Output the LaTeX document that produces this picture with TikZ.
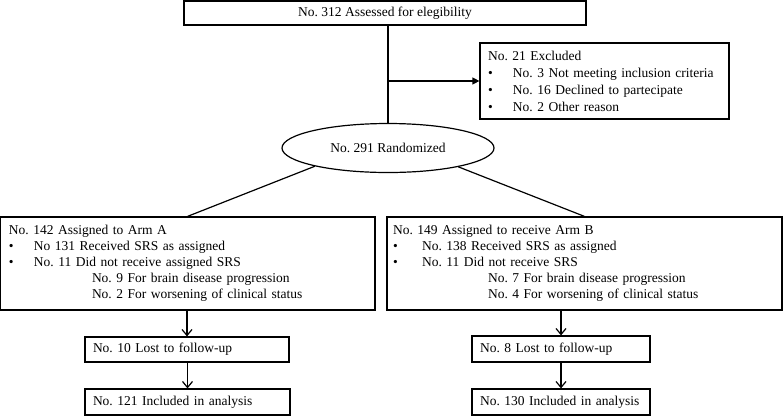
\documentclass[tikz,border=0pt]{standalone}
\usepackage{fontspec}
\setmainfont{Liberation Serif}
\frenchspacing
\usetikzlibrary{positioning}
\usetikzlibrary{arrows.meta,shapes.geometric}
\tikzstyle{box}=[rectangle,draw,line width=1.2pt,inner sep=0pt,font=\fontsize{13.5}{16}\selectfont]
\tikzstyle{textbox}=[box,align=left,inner xsep=8pt]
\tikzstyle{oval}=[ellipse,draw,line width=1.2pt,inner sep=0pt,font=\fontsize{13.5}{16}\selectfont]
\tikzstyle{link}=[draw,line width=1.2pt]
\tikzstyle{flow}=[draw,line width=1.2pt,-{Straight Barb[length=6pt,width=10pt]}]
\tikzstyle{side}=[draw,line width=1.2pt,-{Triangle[length=7pt,width=7pt]}]
\newcommand{\bul}[1]{\makebox[#1][l]{\textbullet}}

\begin{document}
\begin{tikzpicture}[x=1pt,y=-1pt]
    \useasboundingbox (0,0) rectangle (783,416);
    % boxes of the flow
    \node[box, minimum width=402, minimum height=24] (assess) at (385,13) {No. 312 Assessed for elegibility};
    \node[textbox, minimum width=249, minimum height=76, text width=233] (excl) at (604.5,81)
        {No. 21 Excluded\\[1pt]
         \bul{25pt}No. 3 Not meeting inclusion criteria\\[1pt]
         \bul{25pt}No. 16 Declined to partecipate\\[1pt]
         \bul{25pt}No. 2 Other reason};
    \node[oval, minimum width=212, minimum height=49] (rand) at (388,148) {No. 291 Randomized};
    \node[textbox, inner xsep=9pt, minimum width=375, minimum height=93, text width=357] (armA) at (187.5,263.5)
        {No. 142 Assigned to Arm A\\
         \bul{25pt}No 131 Received SRS as assigned\\
         \bul{25pt}No. 11 Did not receive assigned SRS\\
         \hspace*{83pt}No. 9 For brain disease progression\\
         \hspace*{83pt}No. 2 For worsening of clinical status};
    \node[textbox, inner xsep=6pt, minimum width=395, minimum height=93, text width=383] (armB) at (584.5,263.5)
        {No. 149 Assigned to receive Arm B\\
         \bul{29pt}No. 138 Received SRS as assigned\\
         \bul{29pt}No. 11 Did not receive SRS\\
         \hspace*{95pt}No. 7 For brain disease progression\\
         \hspace*{95pt}No. 4 For worsening of clinical status};
    \node[textbox, minimum width=204, minimum height=25, text width=188] (lostA) at (187,349.5) {No. 10 Lost to follow-up};
    \node[textbox, minimum width=178, minimum height=26, text width=162] (lostB) at (561,349) {No. 8 Lost to follow-up};
    \node[textbox, minimum width=205, minimum height=26, text width=189] (inclA) at (187.5,402) {No. 121 Included in analysis};
    \node[textbox, minimum width=178, minimum height=26, text width=162] (inclB) at (561,402) {No. 130 Included in analysis};

    % connectors
    \coordinate (split) at (rand.north |- excl.west);
    \path[link] (assess.south -| rand.north) -- (rand.north);
    \path[side] (split) -- (excl.west);
    \path[link] (rand.194) -- (armA.north);
    \path[link] (rand.345) -- (armB.north);
    \foreach \source/\dest in {armA/lostA, lostA/inclA, armB/lostB, lostB/inclB}
        \path[flow] (\source.south -| \dest.north) -- (\dest.north);
\end{tikzpicture}
\end{document}
